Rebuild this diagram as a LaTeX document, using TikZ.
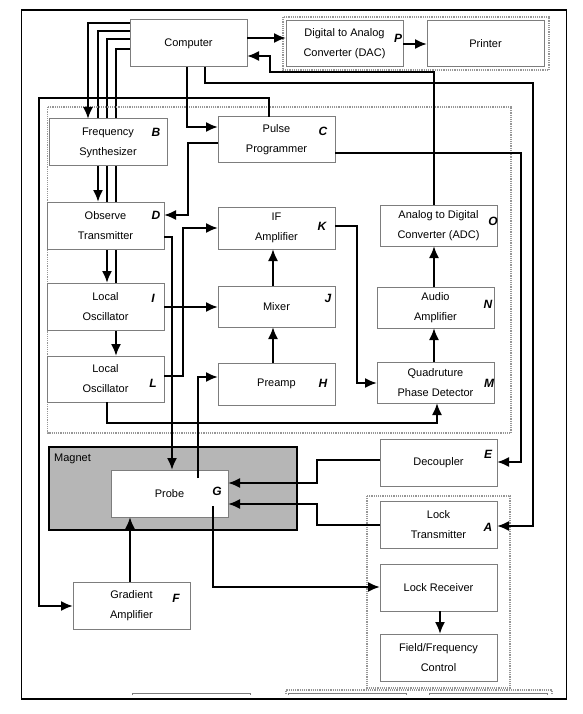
\documentclass[tikz,border=0pt]{standalone}
\usepackage{fontspec}
\newfontfamily\arial{Liberation Sans}
\usetikzlibrary{arrows.meta,calc}
\pgfdeclarelayer{bg}
\pgfdeclarelayer{canvas}
\pgfsetlayers{canvas,bg,main}
\definecolor{boxgray}{RGB}{125,125,125}
\definecolor{dotgray}{RGB}{150,150,150}
\definecolor{maggray}{RGB}{182,182,182}
\tikzset{
 blk/.style={draw=boxgray, fill=white, line width=1pt, inner sep=0pt, outer sep=0pt,
   minimum width=117pt, minimum height=47pt, align=center,
   font=\arial\fontsize{11}{20}\selectfont},
 lbl/.style={font=\arial\bfseries\itshape\fontsize{12}{12}\selectfont, inner sep=0pt},
 conn/.style={line width=2pt, draw=black},
 arr/.style={conn, -{Latex[length=12pt,width=10pt]}},
 grp/.style={draw=dotgray, line width=1.2pt, densely dotted},
 deco/.style={draw=boxgray, line width=1pt},
}
\begin{document}
\begin{tikzpicture}[x=1pt,y=-1pt]
\useasboundingbox (0,0) rectangle (582,714);
\begin{pgfonlayer}{canvas}
\fill[white] (0,0) rectangle (582,714);
\end{pgfonlayer}
% group frames
\draw[grp] (283,17) rectangle (549,70);
\draw[grp] (47.5,107) rectangle (511,433);
\draw[grp] (367,496) rectangle (510,688);
% outer frame
\draw[line width=1.5pt] (21.7,10) rectangle (566.7,699);
% bottom decorations
\draw[deco] (132,695) -- (132,693) -- (250,693) -- (250,695);
\draw[grp] (286,694) -- (286,690) -- (552,690) -- (552,694);
\draw[deco] (288,695) -- (288,693) -- (406,693) -- (406,695);
\draw[deco] (429,695) -- (429,693) -- (547,693) -- (547,695);
% magnet
\node[draw=black, line width=2pt, fill=maggray, minimum width=248pt, minimum height=83pt, inner sep=0pt] (mag) at (173,488.5) {};
\node[anchor=west, inner sep=0pt, font=\arial\fontsize{11}{13}\selectfont] (magl) at (54,459) {Magnet};

% blocks
\node[blk] (comp) at (188.5,43.5) {Computer};
\node[blk, minimum height=46pt] (dac) at (344.5,44) {Digital to Analog\\Converter (DAC)};
\node[blk, minimum height=46pt] (printer) at (485.5,44) {Printer};
\node[blk, minimum width=118pt] (fs) at (108,142.5) {Frequency\\Synthesizer};
\node[blk, minimum height=46pt] (pp) at (276.5,140) {Pulse\\Programmer};
\node[blk] (ot) at (105.5,225.5) {Observe\\Transmitter};
\node[blk] (lo1) at (105.5,306.5) {Local\\Oscillator};
\node[blk, minimum height=46pt] (lo2) at (105.5,379) {Local\\Oscillator};
\node[blk, minimum height=42pt] (ifa) at (276.5,228) {IF\\Amplifier};
\node[blk, minimum height=41pt] (mix) at (276.5,306.5) {Mixer};
\node[blk, minimum height=42pt] (pre) at (276.5,384) {Preamp};
\node[blk, minimum height=41pt] (adc) at (438.5,225.5) {Analog to Digital\\Converter (ADC)};
\node[blk, minimum height=41pt] (aud) at (435.5,307.5) {Audio\\Amplifier};
\node[blk, minimum height=41pt] (qpd) at (435.5,382.5) {Quadruture\\Phase Detector};
\node[blk] (probe) at (169.5,493.5) {Probe};
\node[blk] (dec) at (438.5,462.5) {Decoupler};
\node[blk] (lt) at (438.5,524.5) {Lock\\Transmitter};
\node[blk] (lr) at (438.5,587.5) {Lock Receiver};
\node[blk] (ffc) at (438.5,657.5) {Field/Frequency\\Control};
\node[blk] (ga) at (131.5,605.5) {Gradient\\Amplifier};

% letter labels
\node[lbl] (lP) at (398,38) {P};
\node[lbl] (lB) at (156,132) {B};
\node[lbl] (lC) at (323,131) {C};
\node[lbl] (lD) at (156,215) {D};
\node[lbl] (lI) at (153,298) {I};
\node[lbl] (lL) at (153,383) {L};
\node[lbl] (lK) at (322,226) {K};
\node[lbl] (lJ) at (328,298) {J};
\node[lbl] (lH) at (323,383) {H};
\node[lbl] (lO) at (493,221) {O};
\node[lbl] (lN) at (488,304) {N};
\node[lbl] (lM) at (489,383) {M};
\node[lbl] (lE) at (488,454) {E};
\node[lbl] (lA) at (488,527) {A};
\node[lbl] (lG) at (217,491) {G};
\node[lbl] (lF) at (176,598) {F};

% connectors passing behind blocks
\begin{pgfonlayer}{bg}
\draw[arr] (comp.west |- 0,31) -| (ot.north -| 98,0);
\draw[arr] (comp.west |- 0,39) -| (lo1.north -| 107,0);
\draw[arr] (comp.west |- 0,49) -| (lo2.north -| 116,0);
\end{pgfonlayer}

% connectors
\draw[arr] (comp.west |- 0,23) -| (fs.north -| 88,0);
\draw[arr] (comp.east |- 0,38) -- (dac.west |- 0,38);
\draw[arr] (dac.east) -- (printer.west);
\draw[arr] (adc.north -| 434,0) |- (270,72) |- (comp.east |- 0,56);
\draw[arr] (comp.south -| 205,0) |- (533,83) |- (lt.east |- 0,526);
\draw[arr] (comp.south -| 187,0) |- (pp.west |- 0,127);
\draw[arr] (pp.east |- 0,153) -| (521,462) -- (dec.east |- 0,462);
\draw[arr] (pp.north -| 269,0) |- (39,98) |- (ga.west |- 0,606);
\draw[arr] (pp.west |- 0,143) -| (188,215) -- (ot.east |- 0,215);
\draw[arr] (ot.east |- 0,237) -| (probe.north -| 172,0);
\draw[arr] (lo1.east |- 0,307) -- (mix.west |- 0,307);
\draw[arr] (lo2.east |- 0,376) -| (183,228) -- (ifa.west |- 0,228);
\draw[arr] ($(probe.north -| 198,0)+(0,8)$) |- (pre.west |- 0,377);
\draw[arr] (mix.north -| 273,0) -- (ifa.south -| 273,0);
\draw[arr] (pre.north -| 273,0) -- (mix.south -| 273,0);
\draw[arr] (ifa.east |- 0,226) -| (357,383) -- (qpd.west |- 0,383);
\draw[arr] (lo2.south -| 107,0) |- (437,423) -- (qpd.south -| 437,0);
\draw[arr] (qpd.north -| 434,0) -- (aud.south -| 434,0);
\draw[arr] (aud.north -| 434,0) -- (adc.south -| 434,0);
\draw[arr] (dec.west |- 0,460) -| (317,483) -- (probe.east |- 0,483);
\draw[arr] (lt.west |- 0,525) -| (317,504) -- (probe.east |- 0,504);
\draw[arr] ($(probe.south -| 213,0)+(0,-11)$) |- (lr.west |- 0,587);
\draw[arr] (ga.north -| 130,0) -- (probe.south -| 130,0);
\draw[arr] (lr.south -| 440,0) -- (ffc.north -| 440,0);
\end{tikzpicture}
\end{document}
